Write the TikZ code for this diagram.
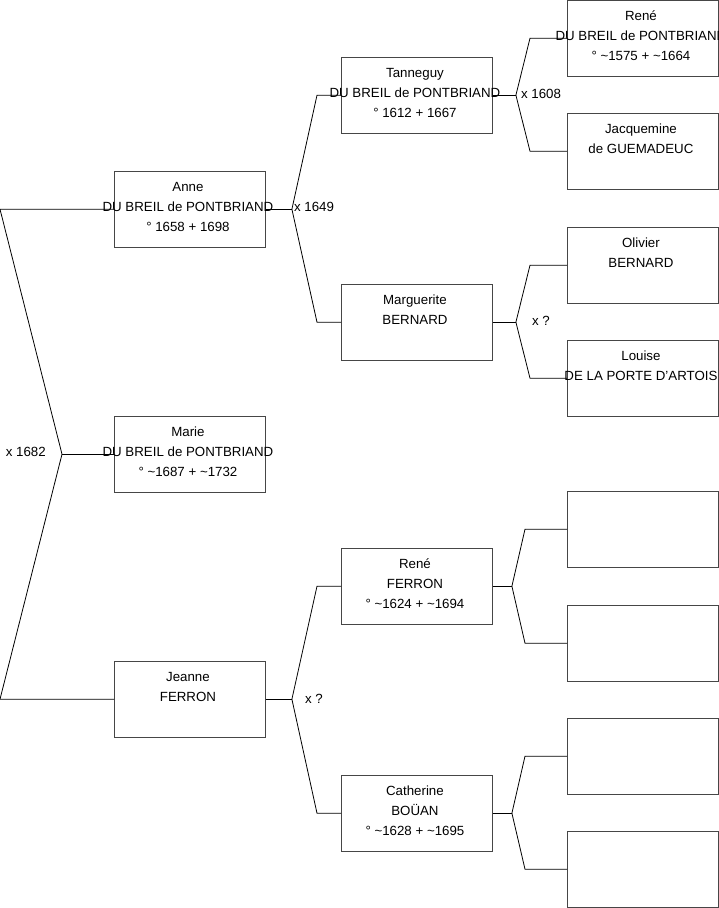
\documentclass[tikz,border=0pt]{standalone}
\usepackage{fontspec}
\setmainfont{Liberation Sans}
\usetikzlibrary{calc}
\definecolor{boxgray}{RGB}{70,70,70}
\begin{document}
\begin{tikzpicture}[x=1pt,y=-1pt,
  box/.style={draw=boxgray, line width=0.9pt, minimum width=151pt, minimum height=75.5pt, inner sep=0pt, anchor=north west, fill=white},
  txt/.style={anchor=base, align=center, font=\fontsize{13.3}{20}\selectfont, inner sep=0pt},
  lbl/.style={anchor=west, font=\fontsize{13.3}{16}\selectfont, inner sep=0pt},
  lbll/.style={anchor=east, font=\fontsize{13.3}{16}\selectfont, inner sep=0pt},
  conn/.style={draw=black, line width=0.8pt}]
\useasboundingbox (0,0) rectangle (719,908);
% column 1
\node[box] (anne) at (114,171) {};
\node[box] (marie) at (114,416) {};
\node[box] (jeanne) at (114,661) {};
% column 2
\node[box] (tanneguy) at (341,57) {};
\node[box] (marguerite) at (341,284) {};
\node[box] (renef) at (341,548) {};
\node[box] (catherine) at (341,775) {};
% column 3
\node[box] (rene) at (567,0) {};
\node[box] (jacq) at (567,113) {};
\node[box] (olivier) at (567,227) {};
\node[box] (louise) at (567,340) {};
\node[box] (e1) at (567,491) {};
\node[box] (e2) at (567,605) {};
\node[box] (e3) at (567,718) {};
\node[box] (e4) at (567,831) {};
% connectors level 0
\coordinate (v0) at ($(marie.west)+(-52,0)$);
\coordinate (k01) at ($(anne.west)+(-114,0)$);
\coordinate (k02) at ($(jeanne.west)+(-114,0)$);
\draw[conn] (marie.west) -- (v0);
\draw[conn] (v0) -- (k01) -- (anne.west);
\draw[conn] (v0) -- (k02) -- (jeanne.west);
% Anne
\coordinate (vA) at ($(anne.east)+(26,0)$);
\draw[conn] (anne.east) -- (vA);
\draw[conn] (vA) -- ($(tanneguy.west)+(-24,0)$) -- (tanneguy.west);
\draw[conn] (vA) -- ($(marguerite.west)+(-24,0)$) -- (marguerite.west);
% Jeanne
\coordinate (vJ) at ($(jeanne.east)+(26,0)$);
\draw[conn] (jeanne.east) -- (vJ);
\draw[conn] (vJ) -- ($(renef.west)+(-24,0)$) -- (renef.west);
\draw[conn] (vJ) -- ($(catherine.west)+(-24,0)$) -- (catherine.west);
% Tanneguy
\coordinate (vT) at ($(tanneguy.east)+(23,0)$);
\draw[conn] (tanneguy.east) -- (vT);
\draw[conn] (vT) -- ($(rene.west)+(-37,0)$) -- (rene.west);
\draw[conn] (vT) -- ($(jacq.west)+(-37,0)$) -- (jacq.west);
% Marguerite
\coordinate (vM) at ($(marguerite.east)+(23,0)$);
\draw[conn] (marguerite.east) -- (vM);
\draw[conn] (vM) -- ($(olivier.west)+(-37,0)$) -- (olivier.west);
\draw[conn] (vM) -- ($(louise.west)+(-37,0)$) -- (louise.west);
% Rene Ferron
\coordinate (vR) at ($(renef.east)+(19,0)$);
\draw[conn] (renef.east) -- (vR);
\draw[conn] (vR) -- ($(e1.west)+(-42,0)$) -- (e1.west);
\draw[conn] (vR) -- ($(e2.west)+(-42,0)$) -- (e2.west);
% Catherine
\coordinate (vC) at ($(catherine.east)+(19,0)$);
\draw[conn] (catherine.east) -- (vC);
\draw[conn] (vC) -- ($(e3.west)+(-42,0)$) -- (e3.west);
\draw[conn] (vC) -- ($(e4.west)+(-42,0)$) -- (e4.west);
% labels
\node[lbll] (l0) at ($(v0)+(-16,-2)$) {x 1682};
\node[lbl] (lA) at ($(vA)+(2,-2)$) {x 1649};
\node[lbl] (lJ) at ($(vJ)+(13,0)$) {x ?};
\node[lbl] (lT) at ($(vT)+(5,-1.5)$) {x 1608};
\node[lbl] (lM) at ($(vM)+(16,-1)$) {x ?};
% texts (base anchor = baseline of last line)
\node[txt] (tanne) at ($(anne.north)+(-2,60)$) {Anne\\DU BREIL de PONTBRIAND\\° 1658 + 1698};
\node[txt] (tmarie) at ($(marie.north)+(-2,60)$) {Marie\\DU BREIL de PONTBRIAND\\° \textasciitilde1687 + \textasciitilde1732};
\node[txt] (tjeanne) at ($(jeanne.north)+(-2,40)$) {Jeanne\\FERRON};
\node[txt] (ttanneguy) at ($(tanneguy.north)+(-2,60)$) {Tanneguy\\DU BREIL de PONTBRIAND\\° 1612 + 1667};
\node[txt] (tmarguerite) at ($(marguerite.north)+(-2,40)$) {Marguerite\\BERNARD};
\node[txt] (trenef) at ($(renef.north)+(-2,60)$) {René\\FERRON\\° \textasciitilde1624 + \textasciitilde1694};
\node[txt] (tcatherine) at ($(catherine.north)+(-2,60)$) {Catherine\\BOÜAN\\° \textasciitilde1628 + \textasciitilde1695};
\node[txt] (trene) at ($(rene.north)+(-2,60)$) {René\\DU BREIL de PONTBRIAND\\° \textasciitilde1575 + \textasciitilde1664};
\node[txt] (tjacq) at ($(jacq.north)+(-2,40)$) {Jacquemine\\de GUEMADEUC};
\node[txt] (tolivier) at ($(olivier.north)+(-2,40)$) {Olivier\\BERNARD};
\node[txt] (tlouise) at ($(louise.north)+(-2,40)$) {Louise\\DE LA PORTE D'ARTOIS};
\end{tikzpicture}
\end{document}
